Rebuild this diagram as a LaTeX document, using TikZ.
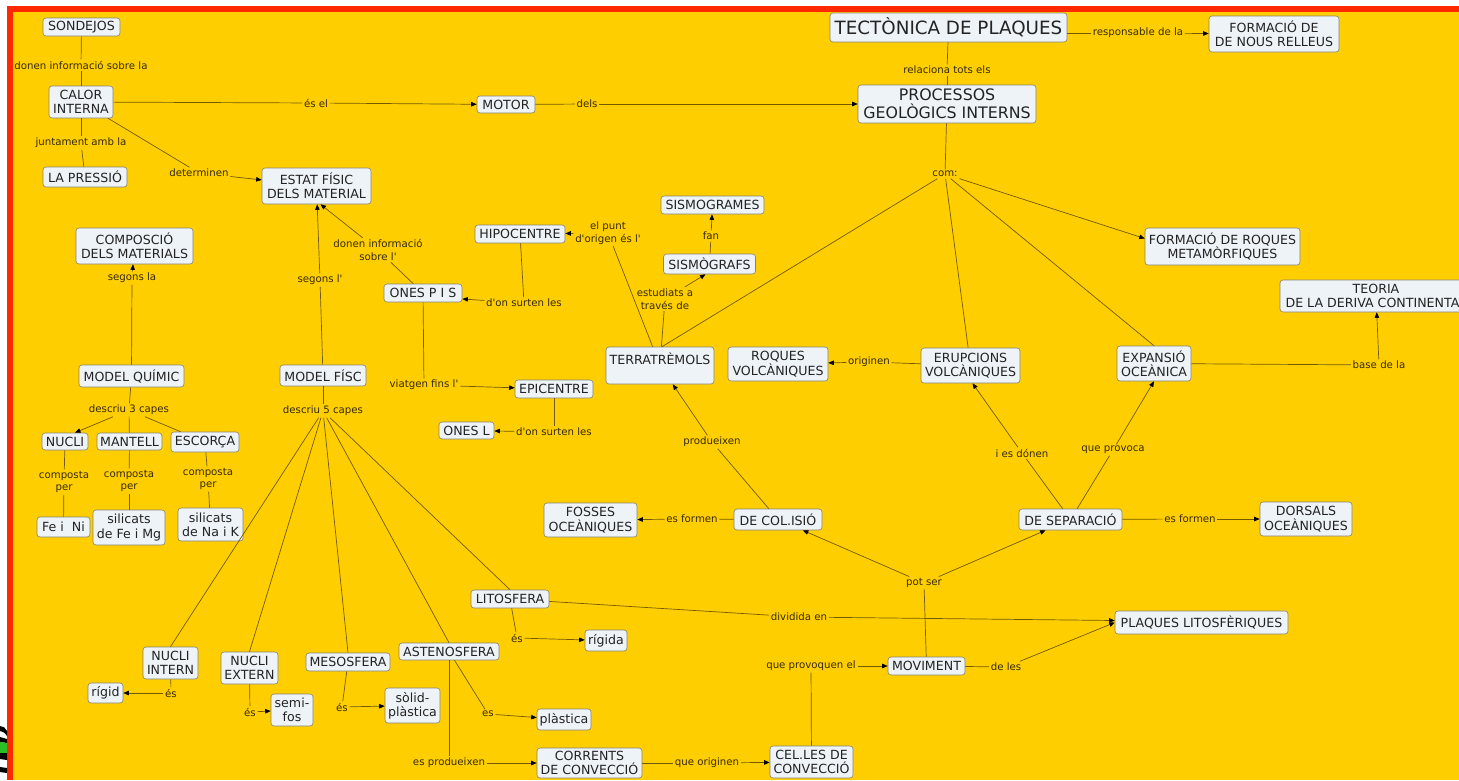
\documentclass[tikz,border=0pt]{standalone}
\usepackage{fontspec}
\setmainfont{DejaVu Sans}
\newfontfamily\cmfont{DejaVu Sans}
\usetikzlibrary{arrows.meta,calc}
\definecolor{bgyel}{RGB}{254,206,0}
\definecolor{frred}{RGB}{255,40,0}
\definecolor{nodefill}{RGB}{238,243,248}
\definecolor{nodeborder}{RGB}{135,130,115}
\definecolor{nodetext}{RGB}{35,35,35}
\definecolor{lbltext}{RGB}{55,42,0}
\definecolor{linecol}{RGB}{115,90,0}
\definecolor{artgreen}{RGB}{40,190,40}
\newcommand\cmnfont{\cmfont\fontsize{12.6}{14.3}\selectfont}
\newcommand\cmlfont{\cmfont\fontsize{10.2}{12.6}\selectfont}
\newcommand\cmtfont{\cmfont\fontsize{18.3}{21}\selectfont}
\newcommand\cmpfont{\cmfont\fontsize{15.8}{18.3}\selectfont}
\begin{document}
\begin{tikzpicture}[x=1pt,y=-1pt,
  cpt/.style={draw=nodeborder, fill=nodefill, rounded corners=3pt, text=nodetext,
    font=\cmnfont, align=center, inner sep=1pt, line width=0.6pt},
  sz/.style 2 args={minimum width=#1pt, minimum height=#2pt},
  lbl/.style={font=\cmlfont, text=lbltext, align=center, inner sep=1.6pt},
  ln/.style={draw=linecol, line width=0.7pt},
  ar/.style={ln, -{Triangle[length=5.5pt,width=4.5pt,color=black]}}
]
\useasboundingbox (0,0) rectangle (1459,780);
\fill[white] (0,0) rectangle (1459,780);
\fill[frred] (7,6) rectangle (1459,780);
\fill[bgyel] (13,12) rectangle (1459,780);
\clip (0,0) rectangle (1459,780);
% small artifact bottom left
\fill[black] (0,726) .. controls (3,726) and (6,728) .. (7,731) -- (7,736) .. controls (5,733) and (3,731) .. (0,731) -- cycle;
\fill[black] (0,737) -- (7,739) -- (7,743) -- (0,742) -- cycle;
\fill[artgreen] (0,742) -- (7,743) -- (7,753) -- (0,753) -- cycle;
\fill[black] (0,753) -- (7,753) -- (7,760) -- (0,759) -- cycle;
\fill[black] (0,767) -- (7,768) -- (7,773) -- (0,772) -- cycle;

% ---------- concepts ----------
\node[cpt,sz={77}{18}] (sond) at (81.5,27) {SONDEJOS};
\node[cpt,sz={64}{32}] (calor) at (81,102) {CALOR\\INTERNA};
\node[cpt,sz={84}{20}] (press) at (85,177) {LA PRESSIÓ};
\node[cpt,sz={109}{36}] (estat) at (316.5,186) {ESTAT FÍSIC\\DELS MATERIAL};
\node[cpt,sz={117}{36}] (compo) at (134.5,246) {COMPOSCIÓ\\DELS MATERIALS};
\node[cpt,sz={58}{17}] (motor) at (506,104.5) {MOTOR};
\node[cpt,sz={237}{29},font=\cmtfont] (tect) at (948.5,27.5) {TECTÒNICA DE PLAQUES};
\node[cpt,sz={178}{38},font=\cmpfont] (proc) at (947,104) {PROCESSOS\\GEOLÒGICS INTERNS};
\node[cpt,sz={130}{36}] (relleus) at (1274,34) {FORMACIÓ DE\\DE NOUS RELLEUS};
\node[cpt,sz={155}{37}] (meta) at (1222.5,246.5) {FORMACIÓ DE ROQUES\\METAMÒRFIQUES};
\node[cpt,sz={103}{18}] (sgrames) at (712.5,205) {SISMOGRAMES};
\node[cpt,sz={90}{18}] (hipo) at (520,234) {HIPOCENTRE};
\node[cpt,sz={92}{20}] (sgrafs) at (709.5,264) {SISMÒGRAFS};
\node[cpt,sz={78}{18}] (onespis) at (423,293) {ONES P I S};
\node[cpt,sz={108}{37}] (terra) at (660,365.5) {TERRATRÈMOLS\\~};
\node[cpt,sz={78}{18}] (epi) at (554,389) {EPICENTRE};
\node[cpt,sz={55}{17}] (onesl) at (466.5,430.5) {ONES L};
\node[cpt,sz={93}{34}] (fosses) at (590.5,520) {FOSSES\\OCEÀNIQUES};
\node[cpt,sz={100}{34}] (rvolc) at (778,364) {ROQUES\\VOLCÀNIQUES};
\node[cpt,sz={99}{35}] (erup) at (970.5,365.5) {ERUPCIONS\\VOLCÀNIQUES};
\node[cpt,sz={88}{21}] (col) at (778,519.5) {DE COL.ISIÓ};
\node[cpt,sz={103}{21}] (sep) at (1070.5,519.5) {DE SEPARACIÓ};
\node[cpt,sz={74}{35}] (exp) at (1154,363.5) {EXPANSIÓ\\OCEÀNICA};
\node[cpt,sz={192}{32}] (teoria) at (1376,296) {TEORIA\\DE LA DERIVA CONTINENTAL};
\node[cpt,sz={92}{34}] (dors) at (1306,519) {DORSALS\\OCEÀNIQUES};
\node[cpt,sz={173}{23}] (plaq) at (1201.5,622.5) {PLAQUES LITOSFÈRIQUES};
\node[cpt,sz={77}{18}] (movi) at (926.5,666) {MOVIMENT};
\node[cpt,sz={83}{32}] (cel) at (811.5,762) {CEL.LES DE\\CONVECCIÓ};
\node[cpt,sz={105}{30}] (corr) at (589.5,763) {CORRENTS\\DE CONVECCIÓ};
\node[cpt,sz={78}{18}] (lito) at (510,599) {LITOSFERA};
\node[cpt,sz={42}{21}] (rigida) at (606,640.5) {rígida};
\node[cpt,sz={100}{17}] (asteno) at (449,651.5) {ASTENOSFERA};
\node[cpt,sz={54}{21}] (plast) at (564,719.5) {plàstica};
\node[cpt,sz={55}{35}] (solid) at (412.5,705.5) {sòlid-\\plàstica};
\node[cpt,sz={84}{18}] (meso) at (348,662) {MESOSFERA};
\node[cpt,sz={57}{32}] (nuext) at (249.5,668) {NUCLI\\EXTERN};
\node[cpt,sz={55}{32}] (nuint) at (170.5,663) {NUCLI\\INTERN};
\node[cpt,sz={35}{20}] (rigid) at (105.5,693) {rígid};
\node[cpt,sz={42}{32}] (semi) at (292,710) {semi-\\fos};
\node[cpt,sz={105}{22}] (mq) at (131.5,376) {MODEL QUÍMIC};
\node[cpt,sz={86}{21}] (mf) at (323,375.5) {MODEL FÍSC};
\node[cpt,sz={46}{17}] (nucli) at (65,441.5) {NUCLI};
\node[cpt,sz={65}{17}] (mant) at (129.5,441.5) {MANTELL};
\node[cpt,sz={68}{20}] (esc) at (205,442) {ESCORÇA};
\node[cpt,sz={53}{20}] (feni) at (63.5,527) {Fe i\ \ Ni};
\node[cpt,sz={72}{35}] (sfm) at (129,527.5) {silicats\\de Fe i Mg};
\node[cpt,sz={65}{33}] (snk) at (210.5,524.5) {silicats\\de Na i K};

% ---------- link labels ----------
\node[lbl] (lsond) at (81,65) {donen informació sobre la};
\node[lbl] (ljunt) at (81,143) {juntament amb la};
\node[lbl] (lesel) at (316,103) {és el};
\node[lbl] (ldeter) at (199,173) {determinen};
\node[lbl] (ldels) at (587,104) {dels};
\node[lbl] (lrelac) at (947,70) {relaciona tots els};
\node[lbl] (lresp) at (1138,33) {responsable de la};
\node[lbl] (lcom) at (945,174) {com:};
\node[lbl] (lpunt) at (608,233) {el punt\\d'origen és l'};
\node[lbl] (lfan) at (711,236) {fan};
\node[lbl] (lestud) at (665,299) {estudiats a\\través de};
\node[lbl] (ldsurt1) at (524,303) {d'on surten les};
\node[lbl] (ldonen2) at (378,250) {donen informació\\sobre l'};
\node[lbl] (lsegl) at (320,280) {segons l'};
\node[lbl] (lsegla) at (132,278) {segons la};
\node[lbl] (lviat) at (424,385) {viatgen fins l'};
\node[lbl] (ldsurt2) at (554,432) {d'on surten les};
\node[lbl] (lprod) at (712,442) {produeixen};
\node[lbl] (lesf1) at (692,519) {es formen};
\node[lbl] (lorig) at (869,362) {originen};
\node[lbl] (liesd) at (1022,453) {i es dónen};
\node[lbl] (lqprov) at (1113,450) {que provoca};
\node[lbl] (lbase) at (1379,365) {base de la};
\node[lbl] (lesf2) at (1190,519) {es formen};
\node[lbl] (lpot) at (924,583) {pot ser};
\node[lbl] (ldivid) at (799,617) {dividida en};
\node[lbl] (lqprovq) at (811,666) {que provoquen el};
\node[lbl] (ldeles) at (1006,667) {de les};
\node[lbl] (lqorig) at (707,763) {que originen};
\node[lbl] (lesprod) at (449,763) {es produeixen};
\node[lbl] (lesast) at (488,714) {es};
\node[lbl] (leslit) at (517,638) {és};
\node[lbl] (lesmeso) at (342,707) {és};
\node[lbl] (lesnext) at (250,712) {és};
\node[lbl] (lesnint) at (171,693) {és};
\node[lbl] (ld3) at (129,410) {descriu 3 capes};
\node[lbl] (ld5) at (323,411) {descriu 5 capes};
\node[lbl] (lcomp1) at (64,482) {composta\\per};
\node[lbl] (lcomp2) at (129,481) {composta\\per};
\node[lbl] (lcomp3) at (208,479) {composta\\per};

% ---------- connectors ----------
\draw[ln] (sond) -- (lsond);
\draw[ln] (lsond) -- (calor);
\draw[ln] (calor) -- (ljunt);
\draw[ln] (ljunt) -- (press);
\draw[ln] (calor) -- (lesel);
\draw[ar] (lesel) -- (motor);
\draw[ln] (calor) -- (ldeter);
\draw[ar] (ldeter) -- (estat);
\draw[ln] (motor) -- (ldels);
\draw[ar] (ldels) -- (proc);
\draw[ln] (tect) -- (lrelac);
\draw[ln] (lrelac) -- (proc);
\draw[ln] (lresp -| tect.east) -- (lresp);
\draw[ar] (lresp) -- (relleus);
\draw[ln] (proc) -- (lcom);
\draw[ln] (lcom) -- ([xshift=2pt]terra.north);
\draw[ln] (lcom) -- (erup);
\draw[ln] (lcom) -- (exp.north);
\draw[ar] (lcom) -- ([yshift=8pt]meta.west);
\draw[ln] (terra) -- (lpunt);
\draw[ar] (lpunt) -- (hipo);
\draw[ln] (terra) -- (lestud);
\draw[ar] (lestud) -- ([xshift=-4pt]sgrafs.south);
\draw[ln] (sgrafs) -- (lfan);
\draw[ar] (lfan) -- (sgrames);
\draw[ln] (hipo) -- (ldsurt1);
\draw[ar] (ldsurt1) -- ([yshift=-6pt]onespis.east);
\draw[ln] (onespis) -- (lviat);
\draw[ar] (lviat) -- (epi);
\draw[ln] (onespis) -- (ldonen2);
\draw[ar] (ldonen2) -- ([xshift=4pt]estat.south);
\draw[ln] (epi) -- (ldsurt2);
\draw[ar] (ldsurt2) -- (onesl);
\draw[ln] (col) -- (lprod);
\draw[ar] (lprod) -- (terra);
\draw[ln] (col) -- (lesf1);
\draw[ar] (lesf1) -- (fosses);
\draw[ln] (erup) -- (lorig);
\draw[ar] (lorig) -- (rvolc);
\draw[ln] (sep) -- (liesd);
\draw[ar] (liesd) -- ([xshift=2pt]erup.south);
\draw[ln] (sep) -- (lqprov);
\draw[ar] (lqprov) -- (exp.south);
\draw[ln] (sep) -- (lesf2);
\draw[ar] (lesf2) -- (dors);
\draw[ln] (exp) -- (lbase);
\draw[ar] (lbase) -- (teoria);
\draw[ln] (movi) -- (lpot);
\draw[ar] (lpot) -- (col);
\draw[ar] (lpot) -- (sep);
\draw[ln] (lito) -- (ldivid);
\draw[ar] (ldivid) -- ([yshift=2pt]plaq.west);
\draw[ln] (movi) -- (ldeles);
\draw[ar] (ldeles) -- (plaq.west);
\draw[ln] (cel) -- (lqprovq);
\draw[ar] (lqprovq) -- (movi);
\draw[ln] (corr) -- (lqorig);
\draw[ar] (lqorig) -- (cel);
\draw[ln] (asteno) -- (lesprod);
\draw[ar] (lesprod) -- (corr);
\draw[ln] (asteno) -- (lesast);
\draw[ar] (lesast) -- (plast);
\draw[ln] (lito) -- (leslit);
\draw[ar] (leslit) -- (rigida);
\draw[ln] (meso) -- (lesmeso);
\draw[ar] (lesmeso) -- (solid);
\draw[ln] (nuext) -- (lesnext);
\draw[ar] (lesnext) -- (semi);
\draw[ln] (nuint) -- (lesnint);
\draw[ar] (lesnint) -- (rigid);
\draw[ln] (mq) -- (lsegla);
\draw[ar] (lsegla) -- (compo);
\draw[ln] (mf) -- (lsegl);
\draw[ar] (lsegl) -- (estat);
\draw[ln] (mq) -- (ld3);
\draw[ar] (ld3) -- ([xshift=10pt]nucli.north);
\draw[ln] (ld3) -- (mant);
\draw[ln] (ld3) -- (esc);
\draw[ln] (mf) -- (ld5);
\draw[ln] (ld5) -- (nuint.north);
\draw[ln] (ld5) -- (nuext.north);
\draw[ln] (ld5) -- (meso.north);
\draw[ln] (ld5) -- (asteno.north);
\draw[ln] (ld5) -- (lito.north);
\draw[ln] (nucli) -- (lcomp1);
\draw[ln] (lcomp1) -- (feni);
\draw[ln] (mant) -- (lcomp2);
\draw[ln] (lcomp2) -- (sfm);
\draw[ln] (esc) -- (lcomp3);
\draw[ln] (lcomp3) -- (snk);
\end{tikzpicture}
\end{document}
